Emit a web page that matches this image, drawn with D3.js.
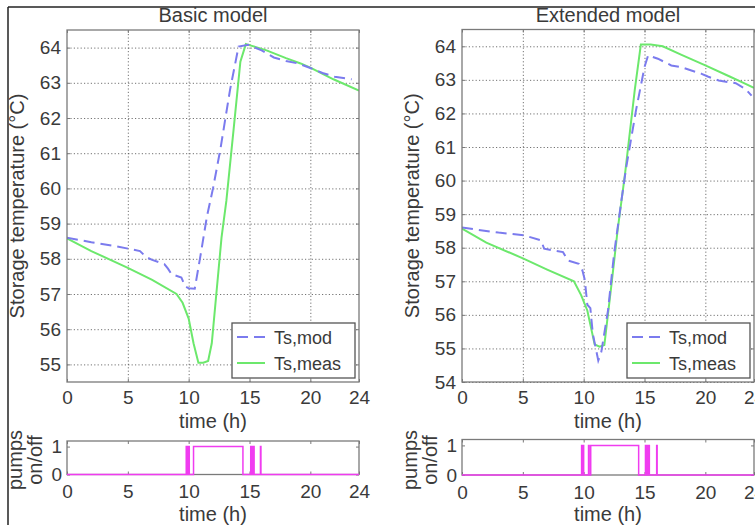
<!DOCTYPE html>
<html><head><meta charset="utf-8">
<script src="https://cdn.jsdelivr.net/npm/d3@7"></script>
<style>
body{margin:0;background:#fff}
svg{display:block}
text{font-family:"Liberation Sans",Arial,Helvetica,sans-serif;fill:#3a3a3a}
</style>
</head><body>
<svg id="chart" width="755" height="525"></svg>
<script>
// ---------- data ----------
const titles = ["Basic model", "Extended model"];
const xTickValues = [0, 5, 10, 15, 20, 24];
const basicYTicks = [55, 56, 57, 58, 59, 60, 61, 62, 63, 64];
const extYTicks = [54, 55, 56, 57, 58, 59, 60, 61, 62, 63, 64];
const pumpYTicks = [0, 1];
const seriesNames = ["Ts,mod", "Ts,meas"];

// Basic model
const basicModT = [0, 2, 4, 6, 6.5, 7, 8, 8.3, 8.6, 9.4, 9.7, 10.0, 10.5, 11.0, 11.5, 12.0, 12.6, 13.4, 14.1, 14.9, 16, 17, 18, 19, 20, 21, 22, 23.4];
const basicModV = [58.6, 58.47, 58.36, 58.22, 58.05, 57.97, 57.85, 57.72, 57.56, 57.47, 57.22, 57.16, 57.15, 58.15, 59.2, 60.0, 61.1, 62.8, 64.03, 64.08, 63.92, 63.72, 63.62, 63.55, 63.42, 63.28, 63.17, 63.1];
const basicMeasT = [0, 2, 5, 7, 9.0, 9.5, 10.0, 10.4, 10.8, 11.2, 11.6, 11.9, 12.3, 12.7, 13.1, 13.7, 14.25, 14.7, 15.2, 16.4, 18, 19.2, 20, 21.9, 24];
const basicMeasV = [58.58, 58.22, 57.74, 57.4, 57.0, 56.75, 56.3, 55.6, 55.05, 55.05, 55.1, 55.6, 57.1, 58.6, 59.65, 61.7, 63.6, 64.1, 64.05, 63.92, 63.7, 63.55, 63.43, 63.1, 62.78];

// Extended model
const extModT = [0, 3, 5.1, 6.5, 6.75, 8.3, 8.7, 9.6, 9.9, 10.1, 10.3, 10.55, 10.75, 11.2, 11.45, 12.0, 12.5, 13.1, 13.5, 14.3, 15.0, 15.3, 16.1, 17.2, 18, 19.7, 20.2, 21.1, 22.5, 23.3, 23.8];
const extModV = [58.6, 58.45, 58.37, 58.22, 57.97, 57.87, 57.62, 57.52, 57.32, 57.03, 56.3, 56.2, 55.44, 54.64, 54.9, 56.13, 57.82, 59.4, 60.4, 62.09, 63.38, 63.73, 63.63, 63.43, 63.38, 63.18, 63.1, 62.98, 62.9, 62.73, 62.53];
const extMeasT = [0, 2, 5.1, 7, 9.2, 9.8, 10.3, 10.9, 11.3, 11.7, 12.3, 12.8, 13.4, 14.2, 14.7, 15.5, 16.5, 18, 20, 22, 23, 24];
const extMeasV = [58.57, 58.15, 57.67, 57.35, 57.0, 56.58, 56.13, 55.12, 55.05, 55.1, 56.95, 58.55, 60.2, 62.7, 64.05, 64.05, 64.0, 63.75, 63.43, 63.1, 62.93, 62.76];

// Pump on-intervals (h)
const basicPumpStart = [9.8, 9.9, 10.0, 10.4, 15.1, 15.22, 15.33, 15.9];
const basicPumpEnd   = [9.85, 9.95, 10.05, 14.46, 15.15, 15.27, 15.38, 15.94];
const extPumpStart = [9.83, 9.95, 10.4, 10.58, 15.08, 15.2, 15.35, 16.0];
const extPumpEnd   = [9.88, 10.0, 10.45, 14.52, 15.13, 15.25, 15.4, 16.04];

// ---------- drawing ----------
const svg = d3.select("#chart");
const COL_MOD = "#7b7bee", COL_MEAS = "#6ce86c", COL_PUMP = "#f03cf0";
const BORDER = "#7a7a7a";

// figure frame
svg.append("line").attr("x1", 8).attr("y1", 7).attr("x2", 755).attr("y2", 7).attr("stroke", "#222").attr("stroke-width", 1.5);
svg.append("line").attr("x1", 8).attr("y1", 7).attr("x2", 8).attr("y2", 525).attr("stroke", "#222").attr("stroke-width", 1.5);

const zip = (a, b) => a.map((t, i) => [t, b[i]]);
function pumpSeries(starts, ends) {
  const pts = [[0, 0]];
  starts.forEach((s, i) => { pts.push([s, 0], [s, 1], [ends[i], 1], [ends[i], 0]); });
  pts.push([24, 0]);
  return pts;
}

const panels = [
  {title: titles[0], x0: 67, x1: 359, y0: 30, y1: 382, py0: 441, py1: 474.5,
   yDomain: [54.5, 64.5], yTicks: basicYTicks,
   mod: zip(basicModT, basicModV), meas: zip(basicMeasT, basicMeasV),
   pump: pumpSeries(basicPumpStart, basicPumpEnd)},
  {title: titles[1], x0: 462, x1: 754, y0: 29.5, y1: 382, py0: 439.5, py1: 475,
   yDomain: [54, 64.5], yTicks: extYTicks,
   mod: zip(extModT, extModV), meas: zip(extMeasT, extMeasV),
   pump: pumpSeries(extPumpStart, extPumpEnd)}
];

panels.forEach((p, pi) => {
  const x = d3.scaleLinear().domain([0, 24]).range([p.x0, p.x1]);
  const y = d3.scaleLinear().domain(p.yDomain).range([p.y1, p.y0]);
  const w = p.x1 - p.x0, h = p.y1 - p.y0;
  const g = svg.append("g");

  // title
  g.append("text").attr("x", (p.x0 + p.x1) / 2).attr("y", 22).attr("text-anchor", "middle")
    .style("font-size", "20px").text(p.title);

  // grid
  const gridStyle = sel => {
    sel.select(".domain").remove();
    sel.selectAll(".tick line").attr("stroke", "#444").attr("stroke-width", 1)
      .attr("stroke-dasharray", "1.2,2.2").attr("opacity", 0.75);
    sel.selectAll(".tick text").remove();
  };
  g.append("g").attr("transform", `translate(0,${p.y1})`)
    .call(d3.axisBottom(x).tickValues([5, 10, 15, 20]).tickSize(-h)).call(gridStyle);
  g.append("g").attr("transform", `translate(${p.x0},0)`)
    .call(d3.axisLeft(y).tickValues(p.yTicks).tickSize(-w)).call(gridStyle);

  // axes (inward ticks)
  const axStyle = (sel, fs) => {
    sel.select(".domain").remove();
    sel.selectAll(".tick line").attr("stroke", BORDER);
    sel.selectAll(".tick text").style("font-size", fs).attr("fill", "#3a3a3a");
  };
  g.append("g").attr("transform", `translate(0,${p.y1})`)
    .call(d3.axisBottom(x).tickValues(xTickValues).tickFormat(d3.format("d")).tickSizeInner(-3).tickSizeOuter(0).tickPadding(9))
    .call(s => axStyle(s, "19px"));
  g.append("g").attr("transform", `translate(0,${p.y0})`)
    .call(d3.axisTop(x).tickValues(xTickValues).tickFormat("").tickSizeInner(-3).tickSizeOuter(0))
    .call(s => axStyle(s, "19px"));
  g.append("g").attr("transform", `translate(${p.x0},0)`)
    .call(d3.axisLeft(y).tickValues(p.yTicks).tickFormat(d3.format("d")).tickSizeInner(-3).tickSizeOuter(0).tickPadding(6))
    .call(s => axStyle(s, "19px"));
  g.append("g").attr("transform", `translate(${p.x1},0)`)
    .call(d3.axisRight(y).tickValues(p.yTicks).tickFormat("").tickSizeInner(-3).tickSizeOuter(0))
    .call(s => axStyle(s, "19px"));

  // clip
  const cid = "clip" + pi;
  svg.append("clipPath").attr("id", cid).append("rect")
    .attr("x", p.x0).attr("y", p.y0).attr("width", w).attr("height", h);

  const line = d3.line().x(d => x(d[0])).y(d => y(d[1]));
  const lg = g.append("g").attr("clip-path", `url(#${cid})`);
  lg.append("path").datum(p.meas).attr("d", line).attr("fill", "none")
    .attr("stroke", COL_MEAS).attr("stroke-width", 2);
  lg.append("path").datum(p.mod).attr("d", line).attr("fill", "none")
    .attr("stroke", COL_MOD).attr("stroke-width", 2).attr("stroke-dasharray", "11,6");

  // border
  g.append("rect").attr("x", p.x0).attr("y", p.y0).attr("width", w).attr("height", h)
    .attr("fill", "none").attr("stroke", BORDER).attr("stroke-width", 1.3);

  // axis labels
  g.append("text").attr("x", (p.x0 + p.x1) / 2).attr("y", 428).attr("text-anchor", "middle")
    .style("font-size", "20px").text("time (h)");
  g.append("text").attr("transform", `translate(${p.x0 - 43},${(p.y0 + p.y1) / 2}) rotate(-90)`)
    .attr("text-anchor", "middle").style("font-size", "20px").text("Storage temperature (°C)");

  // legend
  const lw = 123, lh = 55;
  const lx = p.x1 - 4 - lw, ly = p.y1 - 4 - lh;
  const leg = g.append("g");
  leg.append("rect").attr("x", lx).attr("y", ly).attr("width", lw).attr("height", lh)
    .attr("fill", "#fff").attr("stroke", "#555").attr("stroke-width", 1.3);
  [[COL_MOD, "11,6"], [COL_MEAS, null]].forEach((c, i) => {
    const cy = ly + 14 + i * 26;
    leg.append("line").attr("x1", lx + 5).attr("x2", lx + 33).attr("y1", cy).attr("y2", cy)
      .attr("stroke", c[0]).attr("stroke-width", 2).attr("stroke-dasharray", c[1]);
    leg.append("text").attr("x", lx + 42).attr("y", cy + 6.5).style("font-size", "18px").text(seriesNames[i]);
  });

  // ----- pump subplot -----
  const py = d3.scaleLinear().domain([0, 1.2]).range([p.py1, p.py0]);
  const ph = p.py1 - p.py0;
  g.append("g").attr("transform", `translate(0,${p.py1})`)
    .call(d3.axisBottom(x).tickValues(xTickValues).tickFormat(d3.format("d")).tickSizeInner(-3).tickSizeOuter(0).tickPadding(10.5))
    .call(s => axStyle(s, "19px"));
  g.append("g").attr("transform", `translate(0,${p.py0})`)
    .call(d3.axisTop(x).tickValues(xTickValues).tickFormat("").tickSizeInner(-3).tickSizeOuter(0))
    .call(s => axStyle(s, "19px"));
  g.append("g").attr("transform", `translate(${p.x0},0)`)
    .call(d3.axisLeft(py).tickValues(pumpYTicks).tickFormat(d3.format("d")).tickSizeInner(-3).tickSizeOuter(0).tickPadding(5))
    .call(s => axStyle(s, "19px"));
  g.append("g").attr("transform", `translate(${p.x1},0)`)
    .call(d3.axisRight(py).tickValues(pumpYTicks).tickFormat("").tickSizeInner(-3).tickSizeOuter(0))
    .call(s => axStyle(s, "19px"));
  g.append("rect").attr("x", p.x0).attr("y", p.py0).attr("width", w).attr("height", ph)
    .attr("fill", "none").attr("stroke", BORDER).attr("stroke-width", 1.3);
  const pline = d3.line().x(d => x(d[0])).y(d => py(d[1]));
  g.append("path").datum(p.pump).attr("d", pline).attr("fill", "none")
    .attr("stroke", COL_PUMP).attr("stroke-width", 1.5);

  g.append("text").attr("x", (p.x0 + p.x1) / 2).attr("y", 521).attr("text-anchor", "middle")
    .style("font-size", "20px").text("time (h)");
  const pc = 460;
  g.append("text").attr("transform", `translate(${p.x0 - 45},${pc}) rotate(-90)`)
    .attr("text-anchor", "middle").style("font-size", "20px").text("pumps");
  g.append("text").attr("transform", `translate(${p.x0 - 25},${pc}) rotate(-90)`)
    .attr("text-anchor", "middle").style("font-size", "20px").text("on/off");
});
</script>
</body></html>
